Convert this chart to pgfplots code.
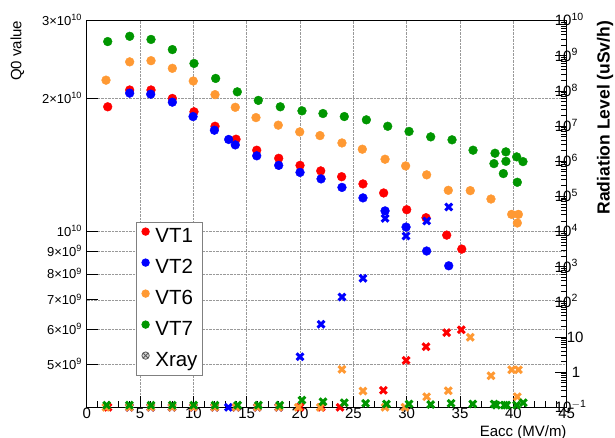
\documentclass[border=0pt]{standalone}
\usepackage{fontspec}
\setmainfont{Liberation Sans}
\setsansfont{Liberation Sans}
\usepackage{pgfplots}
\pgfplotsset{compat=1.18}
\definecolor{cR}{RGB}{255,0,0}
\definecolor{cB}{RGB}{0,0,255}
\definecolor{cO}{RGB}{255,153,51}
\definecolor{cG}{RGB}{0,150,0}
\newcommand{\sci}[2]{#1\texttimes10\textsuperscript{#2}}
\pgfdeclareplotmark{thickx}{%
  \pgfsetlinewidth{3pt}%
  \pgfpathmoveto{\pgfpoint{-\pgfplotmarksize}{-\pgfplotmarksize}}%
  \pgfpathlineto{\pgfpoint{\pgfplotmarksize}{\pgfplotmarksize}}%
  \pgfpathmoveto{\pgfpoint{-\pgfplotmarksize}{\pgfplotmarksize}}%
  \pgfpathlineto{\pgfpoint{\pgfplotmarksize}{-\pgfplotmarksize}}%
  \pgfusepathqstroke}
\pgfplotsset{xr/.style={only marks, mark=thickx, mark size=3.4pt}}
\begin{document}
\begin{tikzpicture}
\useasboundingbox (-86.7pt,-30.7pt) rectangle (528.3pt,407.3pt);
\begin{axis}[
  scale only axis, width=480pt, height=386.6pt,
  xmin=0, xmax=45, ymode=log, ymin=4e9, ymax=3e10,
  xtick={0,5,...,45}, xticklabels={0,5,10,15,20,25,30,35,40,45},
  minor x tick num=4,
  xtick pos=left, ytick pos=left,
  ytick={5e9,6e9,7e9,8e9,9e9,1e10,2e10,3e10},
  yticklabels={\sci{5}{9},\sci{6}{9},\sci{7}{9},\sci{8}{9},\sci{9}{9},10\textsuperscript{10},\sci{2}{10},\sci{3}{10}},
  minor ytick={},
  tick align=inside, major tick length=11pt, minor tick length=6pt,
  every tick/.style={black, line width=0.8pt},
  axis line style={line width=1.4pt},
  grid=major, major grid style={densely dotted, gray!80, line width=0.6pt},
  xticklabel style={font=\fontsize{15}{15}\selectfont, inner sep=1pt},
  yticklabel style={font=\fontsize{13}{13}\selectfont, anchor=base east, inner sep=0pt, xshift=-4.5pt, yshift=-4.6pt},
  xlabel={Eacc (MV/m)},
  xlabel style={font=\fontsize{15}{15}\selectfont, at={(axis description cs:1,-0.046)}, anchor=north east, inner sep=0pt},
  ylabel={Q0 value},
  ylabel style={font=\fontsize{15}{15}\selectfont, at={(axis description cs:-0.1446,1)}, anchor=east, inner sep=0pt},
  legend style={at={(0.1027,0.4785)}, anchor=north west, draw=gray, line width=0.9pt, fill=white,
    font=\fontsize{20.5}{24}\selectfont, inner xsep=3pt, inner ysep=3pt, row sep=8pt,
    nodes={inner sep=2pt, text height=15pt, text depth=4pt}},
  legend cell align=left,
  legend image code/.code={\path (0pt,0pt) (13pt,0pt); \draw[mark size=3.7pt] plot coordinates {(5.7pt,5.6pt)};},
]
\addplot[only marks, mark=*, mark size=4.4pt, color=cR] coordinates {
(1.97,1.915e10)(4.03,2.09e10)(6.03,2.09e10)(8.03,2.00e10)(10.06,1.866e10)(12.03,1.73e10)
(14.0,1.617e10)(15.94,1.527e10)(18.0,1.464e10)(20.0,1.411e10)(21.94,1.371e10)(23.9,1.33e10)
(25.9,1.281e10)(27.84,1.222e10)(30.0,1.12e10)(31.81,1.074e10)(33.75,9.81e9)(35.16,9.12e9)};
\addlegendentry{VT1}
\addplot[only marks, mark=*, mark size=4.4pt, color=cB] coordinates {
(4.03,2.056e10)(6.0,2.045e10)(8.03,1.962e10)(9.97,1.82e10)(11.97,1.695e10)(13.31,1.615e10)
(13.93,1.57e10)(15.94,1.483e10)(18.0,1.411e10)(20.0,1.36e10)(21.97,1.315e10)(23.93,1.258e10)
(25.9,1.191e10)(27.97,1.113e10)(29.94,1.023e10)(31.87,9.03e9)(33.94,8.36e9)};
\addlegendentry{VT2}
\addplot[only marks, mark=*, mark size=4.4pt, color=cO] coordinates {
(1.81,2.20e10)(4.03,2.42e10)(6.03,2.435e10)(8.03,2.34e10)(9.99,2.19e10)(12.03,2.04e10)
(13.93,1.91e10)(15.87,1.81e10)(17.96,1.74e10)(19.97,1.68e10)(21.87,1.648e10)(23.93,1.586e10)
(25.84,1.535e10)(27.97,1.457e10)(29.9,1.407e10)(31.87,1.343e10)(33.9,1.239e10)(35.96,1.237e10)
(37.9,1.184e10)(39.84,1.093e10)(40.47,1.093e10)(40.37,1.045e10)};
\addlegendentry{VT6}
\addplot[only marks, mark=*, mark size=4.4pt, color=cG] coordinates {
(1.97,2.69e10)(4.03,2.765e10)(6.03,2.72e10)(8.03,2.58e10)(10.06,2.40e10)(12.09,2.22e10)
(14.12,2.07e10)(16.09,1.98e10)(18.15,1.915e10)(20.18,1.875e10)(22.15,1.849e10)(24.15,1.82e10)
(26.22,1.789e10)(28.22,1.73e10)(30.22,1.684e10)(32.25,1.637e10)(34.25,1.612e10)(36.22,1.527e10)
(38.28,1.503e10)(38.18,1.424e10)(39.3,1.514e10)(39.3,1.441e10)(39.06,1.352e10)(40.31,1.475e10)
(40.37,1.292e10)(40.9,1.439e10)};
\addlegendentry{VT7}
\addlegendimage{only marks, mark=otimes*, mark options={fill=gray!30, draw=gray!70!black, line width=0.8pt}}
\addlegendentry{Xray\hspace{24pt}}
\end{axis}
\begin{axis}[
  scale only axis, width=480pt, height=386.6pt,
  xmin=0, xmax=45, axis x line=none, axis y line*=right,
  ymode=log, ymin=0.1, ymax=1e10,
  ytick={1e-1,1,10,1e2,1e3,1e4,1e5,1e6,1e7,1e8,1e9,1e10},
  yticklabels={10\textsuperscript{$-$1},\hspace*{17pt}1,\hspace*{12pt}10,10\textsuperscript{2},10\textsuperscript{3},10\textsuperscript{4},10\textsuperscript{5},10\textsuperscript{6},10\textsuperscript{7},10\textsuperscript{8},10\textsuperscript{9},10\textsuperscript{10}},
  tick align=inside, major tick length=12pt, minor tick length=6pt,
  every tick/.style={black, line width=0.8pt},
  axis line style={line width=1.4pt},
  yticklabel style={font=\fontsize{15}{15}\selectfont, anchor=base west, inner sep=0pt, xshift=-12pt, yshift=-5.3pt},
  ylabel={\bfseries Radiation Level (uSv/h)},
  ylabel style={font=\fontsize{17.5}{17.5}\selectfont, at={(axis description cs:1.0798,1)}, anchor=east, inner sep=0pt},
  clip=false,
]
\addplot[xr, color=cR] coordinates {
(2,0.1)(4,0.1)(6,0.1)(8,0.1)(10,0.1)(12,0.1)(14,0.1)(16,0.1)(18,0.1)(20,0.1)(22,0.1)
(23.75,0.1)(27.81,0.305)(29.94,2.17)(31.81,5.3)(33.75,13.3)(35.12,16.1)};
\addplot[xr, color=cB] coordinates {
(4,0.1)(6,0.1)(8,0.1)(10,0.1)(12,0.1)(13.28,0.1)(14,0.1)(16,0.1)(18,0.1)
(20.0,2.75)(21.97,23)(23.93,137)(25.9,468)(27.97,2.38e4)(29.94,7.47e3)(31.87,2.0e4)(33.94,5.0e4)};
\addplot[xr, color=cO] coordinates {
(1.8,0.1)(4,0.1)(6,0.1)(8,0.1)(10,0.1)(12,0.1)(14,0.1)(16.0,0.1)(18,0.1)(19.84,0.1)(21.9,0.1)
(23.93,1.2)(25.9,0.29)(27.97,0.1)(29.84,0.1)(31.87,0.2)(33.9,0.296)(35.96,9.8)(37.9,0.79)
(39.84,1.17)(40.47,1.17)(40.37,0.2)};
\addplot[xr, color=cG] coordinates {
(1.87,0.115)(4.0,0.115)(6.03,0.115)(8.03,0.115)(10.03,0.115)(12.03,0.115)(14.15,0.115)
(16.1,0.115)(18.1,0.115)(20.18,0.16)(22.15,0.144)(24.15,0.135)(26.15,0.13)(28.1,0.124)
(30.22,0.124)(32.25,0.12)(34.16,0.13)(36.19,0.124)(38.2,0.124)(38.4,0.115)(39.15,0.115)
(39.37,0.115)(40.3,0.115)(40.93,0.135)};
\end{axis}
\end{tikzpicture}
\end{document}
